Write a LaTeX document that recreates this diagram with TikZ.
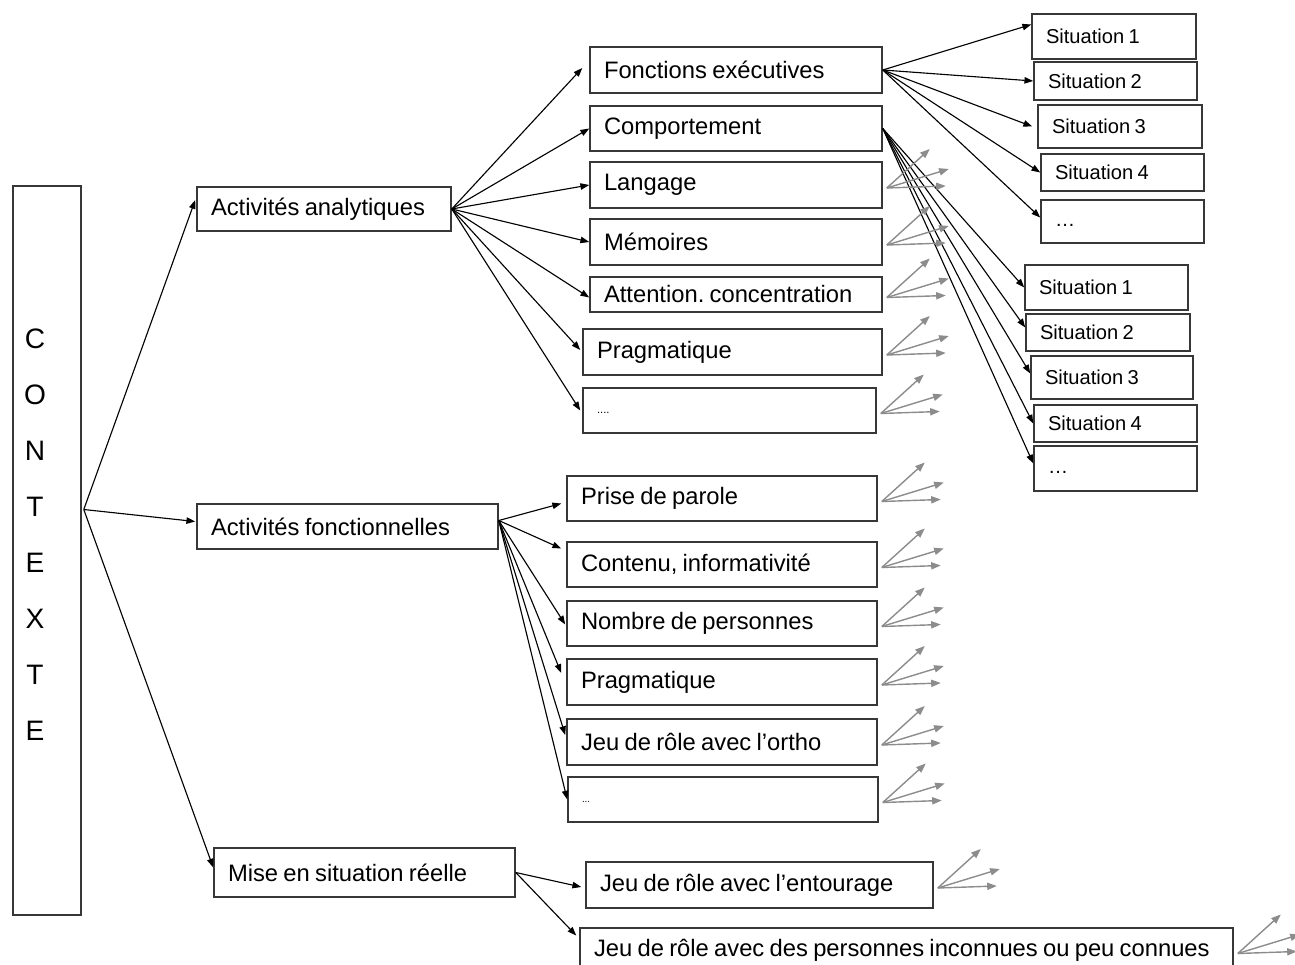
\documentclass[tikz,border=0pt]{standalone}
\usepackage{fontspec}
\setmainfont{Liberation Sans}[WordSpace=0.8]
\usetikzlibrary{arrows.meta, calc}
\definecolor{boxline}{RGB}{55,55,55}
\definecolor{arrowgray}{RGB}{140,140,140}

\begin{document}
\frenchspacing
\begin{tikzpicture}[
    x=0.025cm, y=-0.025cm,
    box/.style 2 args={rectangle, draw=boxline, line width=1.1pt, fill=white,
      minimum width={#1*0.025cm}, minimum height={#2*0.025cm},
      text width={(#1-28)*0.025cm}, inner xsep={14*0.025cm}, inner ysep=0pt,
      align=left, font=\fontsize{16.9}{20}\selectfont,
      execute at begin node={\spaceskip=0pt\xspaceskip=0pt\relax}},
    situation/.style 2 args={box={#1}{#2}, font=\fontsize{14.3}{17}\selectfont},
    line/.style={-{Triangle[length=2.2mm, width=1.6mm]}, line width=0.8pt, color=black},
    faded/.style={-{Triangle[length=2.4mm, width=1.8mm]}, line width=1pt, color=arrowgray}
  ]
    \useasboundingbox (0,0) rectangle (1295,965);

    % contexte
    \node[box={68}{729}] (ctx) at (47,550.5) {};
    \node[font=\fontsize{20}{39.8}\selectfont, align=center, inner sep=0pt] (ctxl) at (35,535)
      {C\\O\\N\\T\\E\\X\\T\\E};

    \node[box={254}{44}] (ana) at (324,209) {Activités analytiques};
    \node[box={301}{45}] (fon) at (347.5,526.5) {Activités fonctionnelles};
    \node[box={301}{49}] (mis) at (364.5,872.5) {Mise en situation réelle};

    % activites analytiques
    \node[box={292}{46}] (fe) at (736,70) {Fonctions exécutives};
    \node[box={292}{45}] (cmp) at (736,128.5) {Comportement};
    \node[box={292}{46}] (lng) at (736,185) {Langage};
    \node[box={292}{46}] (mem) at (736,242) {Mémoires};
    \node[box={292}{35}] (att) at (736,294.5) {Attention. concentration};
    \node[box={299}{46}] (praa) at (732.5,352) {Pragmatique};
    \node[box={293}{45}, font=\fontsize{8}{10}\selectfont] (etca) at (729.5,410.5) {....\strut};

    % activites fonctionnelles
    \node[box={310}{45}] (pp) at (722,498.5) {Prise de parole};
    \node[box={310}{45}] (cnt) at (722,564.5) {Contenu, informativité};
    \node[box={310}{45}] (nbp) at (722,623.5) {Nombre de personnes};
    \node[box={310}{46}] (prf) at (722,682) {Pragmatique};
    \node[box={310}{46}] (jro) at (722,742) {Jeu de rôle avec l’ortho};
    \node[box={310}{45}, font=\fontsize{7}{9}\selectfont] (etcf) at (723,799.5) {...\strut};

    % mise en situation
    \node[box={347}{46}] (jre) at (759.5,885) {Jeu de rôle avec l’entourage};
    \node[box={653}{45}] (jri) at (906.5,950.5) {Jeu de rôle avec des personnes inconnues ou peu connues};

    % situations
    \node[situation={164}{45}] (s11) at (1114,36.5) {Situation 1};
    \node[situation={163}{38}] (s12) at (1115.5,81) {Situation 2};
    \node[situation={164}{43}] (s13) at (1120,126.5) {Situation 3};
    \node[situation={163}{37}] (s14) at (1122.5,172.5) {Situation 4};
    \node[situation={163}{43}] (s15) at (1122.5,221.5) {…\strut};
    \node[situation={163}{45}] (s21) at (1106.5,287.5) {Situation 1};
    \node[situation={164}{37}] (s22) at (1108,332.5) {Situation 2};
    \node[situation={162}{43}] (s23) at (1112,377.5) {Situation 3};
    \node[situation={163}{37}] (s24) at (1115.5,423.5) {Situation 4};
    \node[situation={163}{45}] (s25) at (1115.5,468.5) {…\strut};

    \coordinate (ctx-o) at ($(ctx.east)+(2,-41)$);
    \draw[line] (ctx-o) -- ($(ana.west)+(-1,-9)$);
    \draw[line] (ctx-o) -- ($(fon.west)+(-1,-5)$);
    \draw[line] (ctx-o) -- ($(mis.west)+(0,-5)$);

    \draw[line] (ana.east) -- ($(fe.west)+(-7,-2)$);
    \draw[line] (ana.east) -- (cmp.west);
    \draw[line] (ana.east) -- (lng.west);
    \draw[line] (ana.east) -- (mem.west);
    \draw[line] (ana.east) -- ($(att.west)+(0,3)$);
    \draw[line] (ana.east) -- ($(praa.west)+(-2,-2)$);
    \draw[line] (ana.east) -- ($(etca.west)+(-2,0)$);

    \coordinate (fon-o) at ($(fon.east)+(0,-6)$);
    \draw[line] (fon-o) -- ($(pp.west)+(-5,5)$);
    \draw[line] (fon-o) -- ($(cnt.west)+(-5,-16)$);
    \draw[line] (fon-o) -- ($(nbp.west)+(-1,1)$);
    \draw[line] (fon-o) -- ($(prf.west)+(-5,-9)$);
    \draw[line] (fon-o) -- ($(jro.west)+(-1,-7)$);
    \draw[line] (fon-o) -- (etcf.west);

    \draw[line] (mis.east) -- ($(jre.west)+(-4,2)$);
    \draw[line] (mis.east) -- ($(jri.west)+(-3,-15)$);

    \draw[line] (fe.east) -- ($(s11.west)+(0,-12)$);
    \draw[line] (fe.east) -- (s12.west);
    \draw[line] (fe.east) -- ($(s13.west)+(-5,0)$);
    \draw[line] (fe.east) -- (s14.west);
    \draw[line] (fe.east) -- ($(s15.west)+(0,-4)$);

    \draw[line] (cmp.east) -- (s21.west);
    \draw[line] (cmp.east) -- ($(s22.west)+(0,-5)$);
    \draw[line] (cmp.east) -- ($(s23.west)+(0,-4)$);
    \draw[line] (cmp.east) -- (s24.west);
    \draw[line] (cmp.east) -- ($(s25.west)+(0,-5)$);

    % grey fans
    \foreach \n in {lng,mem,att,praa,etca,pp,cnt,nbp,prf,jro,etcf,jre,jri} {
      \coordinate (\n-o) at ($(\n.east)+(4,3)$);
      \coordinate (\n-a) at ($(\n-o)+(43,-39)$);
      \coordinate (\n-b) at ($(\n-o)+(62,-19)$);
      \coordinate (\n-c) at ($(\n-o)+(59,-2)$);
      \draw[faded] (\n-o) -- (\n-a);
      \draw[faded] (\n-o) -- (\n-b);
      \draw[faded] (\n-o) -- (\n-c);
    }
  \end{tikzpicture}
\end{document}
